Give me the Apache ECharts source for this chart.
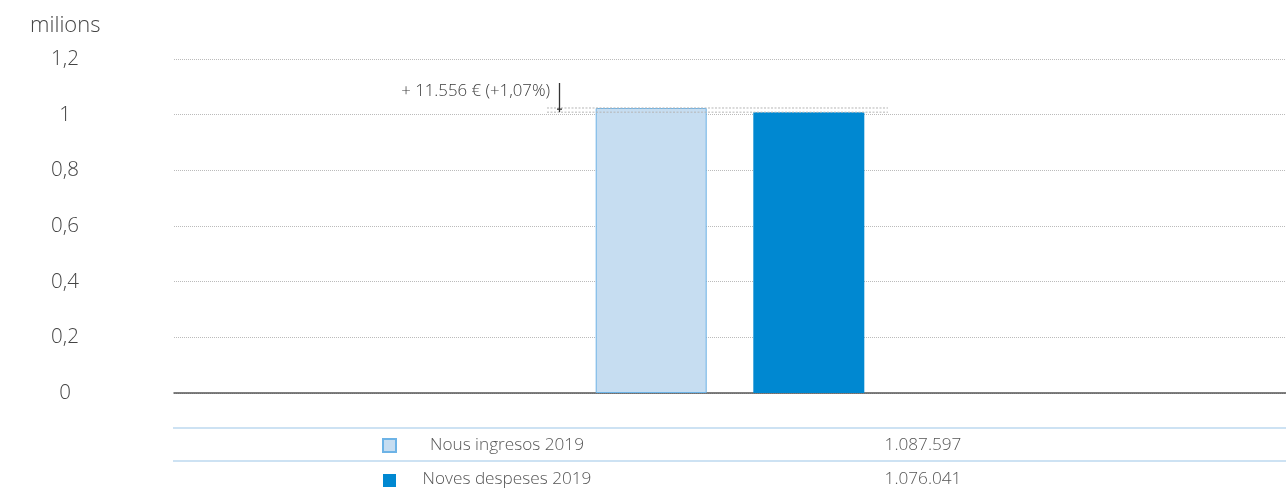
<!DOCTYPE html>
<html lang="ca">
<head>
    <meta charset="UTF-8">
    <title>Ingressos i despeses 2019</title>
    <script src="https://cdn.jsdelivr.net/npm/echarts@6/dist/echarts.min.js"></script>
    <style>
        html, body { margin: 0; padding: 0; background: #fff; }
        #chart { width: 1286px; height: 492px; }
    </style>
</head>
<body>
<div id="chart"></div>
<script type="text/javascript">
    // dades (milions d'euros, llegides del gràfic)
    var seriesNames = ['Nous ingresos 2019', 'Noves despeses 2019'];
    var barValues = [1.024, 1.009];
    var tableValues = ['1.087.597', '1.076.041'];
    var diffLabel = '+ 11.556 € (+1,07%)';
    var categories = ['2019'];
    var colors = ['#c6ddf1', '#0088d1'];

    var font = '"Open Sans", Lato, sans-serif';
    var chart = echarts.init(document.getElementById('chart'));

    var option = {
        animation: false,
        title: {
            text: 'milions',
            left: 30,
            top: 15,
            padding: 0,
            textStyle: { color: '#444', fontSize: 22, fontWeight: 300, fontFamily: font }
        },
        legend: {
            orient: 'vertical',
            left: 382,
            top: 438,
            height: 60,
            padding: 0,
            icon: 'rect',
            itemWidth: 13,
            itemHeight: 13,
            itemGap: 21,
            selectedMode: false,
            formatter: function () { return ''; },
            data: seriesNames
        },
        grid: { left: 174, right: 0, top: 59, bottom: 99, containLabel: false },
        xAxis: {
            type: 'category',
            data: categories,
            axisTick: { show: false },
            axisLabel: { show: false },
            axisLine: { lineStyle: { color: '#555', width: 1.5 } }
        },
        yAxis: {
            type: 'value',
            min: 0,
            max: 1.2,
            interval: 0.2,
            axisLine: { show: false },
            axisTick: { show: false },
            axisLabel: {
                align: 'center',
                margin: 109,
                color: '#444',
                fontSize: 20.5,
                fontWeight: 300,
                fontFamily: font,
                formatter: function (v) { return String(+v.toFixed(1)).replace('.', ','); }
            },
            splitLine: { lineStyle: { color: '#bbb', type: [1, 1], width: 1 } }
        },
        series: [
            {
                name: seriesNames[0],
                type: 'bar',
                barWidth: 111,
                barGap: '42%',
                itemStyle: { color: colors[0], borderColor: '#6db3e6', borderWidth: 1 },
                data: [barValues[0]]
            },
            {
                name: seriesNames[1],
                type: 'bar',
                barWidth: 111,
                barGap: '42%',
                itemStyle: { color: colors[1] },
                data: [barValues[1]]
            }
        ]
    };
    chart.setOption(option);

    // anotació i taula a partir de les escales del gràfic
    var yTop1 = chart.convertToPixel({ yAxisIndex: 0 }, barValues[0]);
    var yTop2 = chart.convertToPixel({ yAxisIndex: 0 }, barValues[1]);
    var gfx = [];
    [yTop1, yTop2].forEach(function (y) {
        gfx.push({
            type: 'line', shape: { x1: 547, y1: y, x2: 888, y2: y },
            style: { stroke: '#b5b5b5', lineWidth: 1, lineDash: [2, 1.5] }, z: 10
        });
    });
    gfx.push({
        type: 'line', shape: { x1: 559.5, y1: 83, x2: 559.5, y2: yTop2 },
        style: { stroke: '#333', lineWidth: 1.3 }, z: 11
    });
    gfx.push({
        type: 'line', shape: { x1: 557, y1: yTop2 - 3, x2: 562, y2: yTop2 - 3 },
        style: { stroke: '#333', lineWidth: 1.3 }, z: 11
    });
    gfx.push({
        type: 'text', x: 550, y: 91,
        style: { text: diffLabel, align: 'right', verticalAlign: 'middle', fill: '#3a3a3a', fontSize: 16.8, fontWeight: 300, fontFamily: font }
    });
    // taula
    [428, 461].forEach(function (y) {
        gfx.push({
            type: 'line', shape: { x1: 173, y1: y, x2: 1286, y2: y },
            style: { stroke: '#bcd8ef', lineWidth: 1.5 }
        });
    });
    seriesNames.forEach(function (name, i) {
        var y = 445.5 + i * 34;
        gfx.push({
            type: 'text', x: 507, y: y,
            style: { text: name, align: 'center', verticalAlign: 'middle', fill: '#555', fontSize: 17.2, fontWeight: 300, fontFamily: font }
        });
        gfx.push({
            type: 'text', x: 923, y: y,
            style: { text: tableValues[i], align: 'center', verticalAlign: 'middle', fill: '#555', fontSize: 17.2, fontWeight: 300, fontFamily: font }
        });
    });
    chart.setOption({ graphic: gfx });
</script>
</body>
</html>
